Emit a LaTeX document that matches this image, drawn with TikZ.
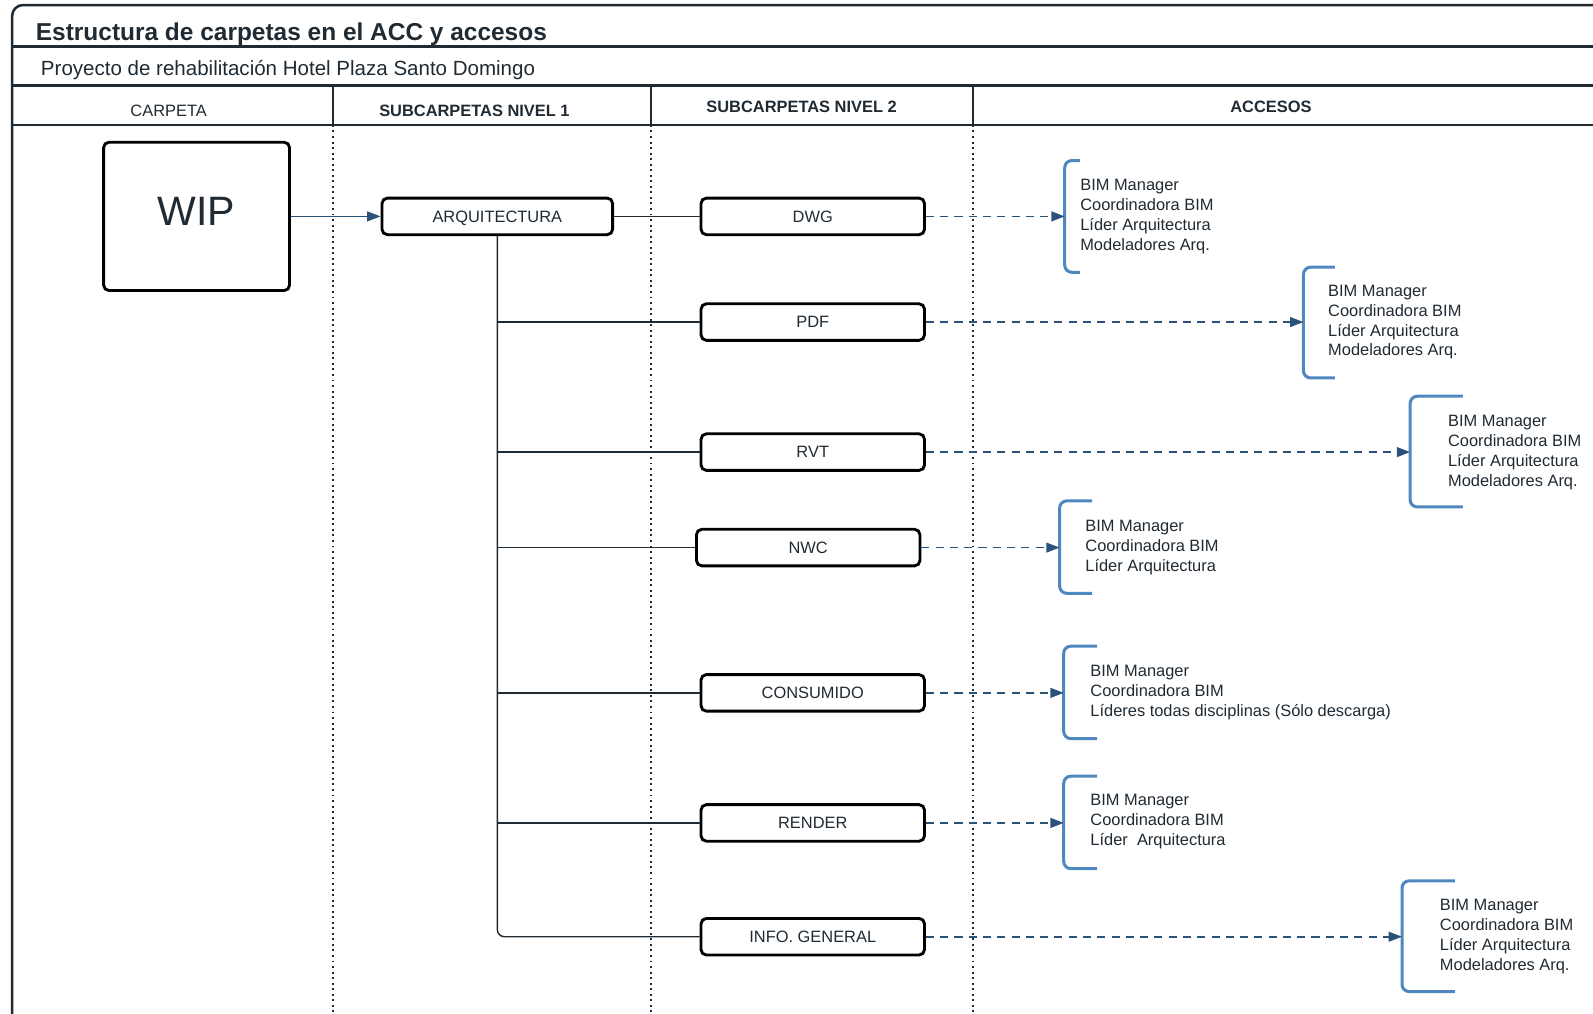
\documentclass[tikz,border=0pt]{standalone}
\usepackage{fontspec}
\setmainfont{Liberation Sans}
\usetikzlibrary{arrows.meta,positioning}
\definecolor{ink}{HTML}{1F2A33}
\definecolor{arrowblue}{HTML}{2B5279}
\definecolor{bracketblue}{HTML}{4F88BF}
\tikzset{
  folder/.style={draw=black,line width=1.6pt,rounded corners=3pt,minimum width=4.4cm,minimum height=0.72cm,inner sep=0pt,text depth=0pt,font=\fontsize{9.2}{11}\selectfont,text=ink},
  link/.style={draw=ink,line width=0.8pt},
  access/.style={draw=arrowblue,line width=1pt,dash pattern=on 4.5pt off 3.5pt,-{Triangle[length=7.5pt,width=5.5pt]}},
  bracket/.style={draw=bracketblue,line width=1.7pt,rounded corners=4pt},
  people/.style={anchor=west,align=left,inner sep=0pt,font=\fontsize{9.2}{11.2}\selectfont,text=ink},
  frame/.style={draw=ink,line width=1.4pt},
  lane/.style={draw=ink,line width=0.9pt,dash pattern=on 1.1pt off 2pt},
  colhead/.style={inner sep=0pt,font=\fontsize{9.2}{11}\selectfont,text=ink}
}

\begin{document}
\begin{tikzpicture}[x=0.02cm,y=-0.02cm]
\useasboundingbox (0,0) rectangle (1568,998);
\draw[frame,rounded corners=6pt] (1568,5) -- (12,5) -- (12,998);
\draw[frame] (12,46) -- (1568,46);
\draw[frame] (12,84) -- (1568,84);
\draw[frame] (12,123) -- (1568,123);
\foreach \x in {328,641,958} {
  \draw[frame,line width=0.9pt] (\x,84) -- (\x,123);
  \draw[lane] (\x,123) -- (\x,998);
}
\node[anchor=west,inner sep=0pt,font=\fontsize{13.7}{16}\bfseries,text=ink] (title) at (35,33.5) {Estructura de carpetas en el ACC y accesos};
\node[anchor=west,inner sep=0pt,font=\fontsize{11.5}{14}\selectfont,text=ink] (project) at (40,68.5) {Proyecto de rehabilitación Hotel Plaza Santo Domingo};
\node[colhead] (carpeta) at (166,109) {CARPETA};
\node[colhead,font=\fontsize{9.2}{11}\bfseries] (nivel1) at (467,109) {SUBCARPETAS NIVEL 1};
\node[colhead,font=\fontsize{9.2}{11}\bfseries] (nivel2) at (789,105) {SUBCARPETAS NIVEL 2};
\node[colhead,font=\fontsize{9.2}{11}\bfseries] (accesos) at (1251,105) {ACCESOS};

\node[folder,minimum width=3.66cm,minimum height=2.92cm,text depth=5.6pt,font=\fontsize{23}{27}\selectfont] (wip) at (193.5,213) {WIP};
\node[folder,minimum width=4.54cm] (arq) at (489.5,213) {ARQUITECTURA};
\node[folder] (dwg) at (800,213) {DWG};
\node[folder] (pdf) at (800,317) {PDF};
\node[folder] (rvt) at (800,445) {RVT};
\node[folder] (nwc) at (795.5,539) {NWC};
\node[folder] (consumido) at (800,682) {CONSUMIDO};
\node[folder] (render) at (800,810) {RENDER};
\node[folder] (info) at (800,922) {INFO. GENERAL};

\draw[draw=arrowblue,line width=0.85pt,-{Triangle[length=7.5pt,width=5.5pt]}] (wip) -- (arq);
\draw[link] (arq) -- (dwg);
\draw[link,rounded corners=4pt] (arq.south) |- (info.west);
\foreach \n in {pdf,rvt,nwc,consumido,render}
  \draw[link] (arq.south |- \n.west) -- (\n.west);

\coordinate (acc1) at (1048,213);
\coordinate (acc2) at (1283,317);
\coordinate (acc3) at (1388,445);
\coordinate (acc4) at (1043,539);
\coordinate (acc5) at (1047,682);
\coordinate (acc6) at (1047,810);
\coordinate (acc7) at (1380,922);

\draw[bracket] (1063,158) -- (1048,158) -- (1048,268) -- (1063,268);
\draw[bracket] (1314,263) -- (1283,263) -- (1283,372) -- (1314,372);
\draw[bracket] (1440,390) -- (1388,390) -- (1388,499) -- (1440,499);
\draw[bracket] (1075,493) -- (1043,493) -- (1043,584) -- (1075,584);
\draw[bracket] (1080,636) -- (1047,636) -- (1047,727) -- (1080,727);
\draw[bracket] (1080,764) -- (1047,764) -- (1047,855) -- (1080,855);
\draw[bracket] (1432,867) -- (1380,867) -- (1380,976) -- (1432,976);

\draw[access] (dwg) -- (acc1);
\draw[access] (pdf) -- (acc2);
\draw[access] (rvt) -- (acc3);
\draw[access] (nwc) -- (acc4);
\draw[access] (consumido) -- (acc5);
\draw[access] (render) -- (acc6);
\draw[access] (info) -- (acc7);

\node[people] (team1) at (1063,213) {BIM Manager\\Coordinadora BIM\\Líder Arquitectura\\Modeladores Arq.};
\node[people] (team2) at (1307,317) {BIM Manager\\Coordinadora BIM\\Líder Arquitectura\\Modeladores Arq.};
\node[people] (team3) at (1425,445) {BIM Manager\\Coordinadora BIM\\Líder Arquitectura\\Modeladores Arq.};
\node[people] (team4) at (1068,539) {BIM Manager\\Coordinadora BIM\\Líder Arquitectura};
\node[people] (team5) at (1073,682) {BIM Manager\\Coordinadora BIM\\Líderes todas disciplinas (Sólo descarga)};
\node[people] (team6) at (1073,809) {BIM Manager\\Coordinadora BIM\\Líder\ \ Arquitectura};
\node[people] (team7) at (1417,922) {BIM Manager\\Coordinadora BIM\\Líder Arquitectura\\Modeladores Arq.};
\end{tikzpicture}
\end{document}
